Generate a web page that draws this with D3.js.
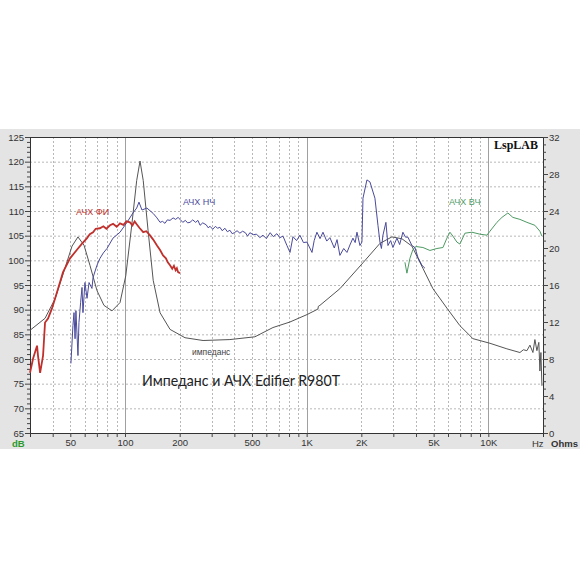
<!DOCTYPE html>
<html><head><meta charset="utf-8">
<script src="https://cdn.jsdelivr.net/npm/d3@7"></script>
<style>body{margin:0;background:#fff}svg{display:block}</style>
</head><body>
<svg id="c" width="580" height="580"></svg>
<script>
// ---- data ----
const dbTicks = [65,70,75,80,85,90,95,100,105,110,115,120,125];
const ohmTicks = [0,4,8,12,16,20,24,28,32];
const freqTicks = [50,100,200,500,1000,2000,5000,10000];
const freqTickLabels = ["50","100","200","500","1K","2K","5K","10K"];
const gridMajor = [100,1000,10000];
const gridMinor = [40,50,60,70,80,90,200,300,400,500,600,700,800,900,2000,3000,4000,5000,6000,7000,8000,9000];

// Impedance (Hz, Ohm)
const impFreq = [30,36.3,41.2,46.7,51.1,55.1,59.5,64.2,70.1,76.6,84.8,93.9,101,109,116,121,126,134,143,156,177,214,269,378,519,652,809,1004,1154,1160,1183,1524,2041,2532,2947,3345,3798,4365,4956,5917,6978,8227,10206,12651,14928,15600,16311,16947,17603,18050,18510,18972,19230,19479,19730];
const impOhm  = [11.1,12.4,14.5,17.8,20.2,21.2,20.3,18.1,15.4,13.8,13.2,14.1,17.0,22.5,27.3,29.4,27.3,21.9,16.5,13.0,11.2,10.3,10.0,10.1,10.4,11.4,12.0,12.8,13.4,13.7,13.8,15.6,18.4,20.5,21.2,21.0,20.2,17.8,15.6,13.5,11.6,10.2,9.7,9.1,8.7,9.0,8.9,9.5,8.7,10.1,8.9,9.8,6.7,8.7,5.1];

// АЧХ ФИ (red)
const fiFreq = [30,31.2,32.8,33.2,34.1,35.4,36.3,37.7,39.6,42.2,45.6,49.8,55.1,58,61.8,64,66.7,69,72.8,76,79,82.7,86,90,93.9,98,102,106.5,110,113,116,120,126,131,137,143,150,156,162,168,172,177,182,186,190,193,196,201];
const fiDb   = [77.2,80.1,82.7,80.7,77.2,80.7,87.4,88.2,90.2,93.5,97.6,100.4,102.4,103.4,104.5,105.3,105.7,106.4,106.5,106.9,106.4,107.1,107.4,106.8,107.5,107.2,107.9,107.7,107.1,107.9,107.3,106.6,105.7,105.9,105.1,104.2,103.0,102.1,101.0,100.4,99.6,99.0,98.3,98.9,98.0,98.4,97.6,97.4];

// АЧХ НЧ (blue)
const nchFreq = [50.4,51.7,52.4,53.1,53.7,55.1,55.8,57,58.0,58.7,60.2,61.8,63.4,65.8,66.7,70.1,72.8,76,79.6,85.9,93.9,102.6,110.6,116,119.4,124,132,143,150,156,161,166,171,177,184,190,196,201,208,215,221,228,236,245,252,259,268,280,287,294,304,315,323,333,343,355,366,378,389,400,414,429,444,460,473,487,508,530,552,575,600,630,655,686,712,741,779,810,841,880,918,960,1004,1070,1100,1139,1185,1230,1290,1343,1420,1470,1524,1600,1667,1730,1798,1850,1892,1965,2015,2042,2147,2230,2376,2469,2532,2580,2630,2731,2802,2900,2985,3140,3250,3387,3500,3609,3798,3944,4098,4311,4479];
const nchDb   = [79.1,86.8,89.4,84.1,89.8,80.7,87.4,91.5,94.5,89.4,95.5,92.3,95.5,94.3,96.5,99.0,100.4,101.5,102.4,104.5,105.7,107.7,109.6,110.6,111.8,110.2,110.6,109.5,108.6,107.7,107.9,107.5,108.2,108.1,108.6,108.3,108.7,108.3,107.7,108.1,107.6,107.7,108.2,107.7,108.1,107.1,107.6,107.2,106.6,106.9,106.3,106.9,106.5,106.7,106.0,106.5,105.8,106.1,105.4,105.6,106.0,105.5,105.9,105.6,104.9,105.6,105.2,105.3,104.6,105.1,104.4,105.6,104.8,105.4,104.6,104.9,103.0,101.6,104.8,104.0,105.1,103.6,103.7,101.6,104.0,105.7,104.4,105.7,103.9,104.6,102.5,104.2,101.0,102.4,101.6,103.1,104.5,103.6,105.7,103.0,103.7,112.6,116.3,115.9,112.6,107.1,103.7,102.4,105.1,107.7,103.0,104.0,102.6,104.5,103.2,105.7,104.7,104.7,103.0,102.6,100.6,99.0,98.4];

// АЧХ ВЧ (green)
const vchFreq = [3475,3564,3702,3846,3996,4365,4771,5214,5627,5917,6148,6386,6716,6978,7433,8122,8992,9826,10206,11151,11881,12815,13655,14928,16311,18049,19230,19730];
const vchDb   = [99.6,97.4,100.4,102.2,102.8,102.6,102.0,102.4,102.6,104.5,105.7,104.9,103.7,103.3,105.5,105.7,105.3,105.1,105.9,107.7,108.7,109.6,108.7,108.3,107.7,107.1,105.9,104.9];

const labels = {fi:"АЧХ ФИ", nch:"АЧХ НЧ", vch:"АЧХ ВЧ", imp:"импеданс",
  title:"Импеданс и АЧХ Edifier R980T", brand:"LspLAB"};

// ---- drawing ----
const svg = d3.select("#c");
const L=30,R=543,T=137,B=433;
const x = d3.scaleLog().domain([30,20000]).range([L,R]);
const yL = d3.scaleLinear().domain([65,125]).range([B,T]);
const yR = d3.scaleLinear().domain([0,32]).range([B,T]);

svg.append("rect").attr("x",0).attr("y",129).attr("width",580).attr("height",320).attr("fill","#e4e4e4");
svg.append("rect").attr("x",L).attr("y",T).attr("width",R-L).attr("height",B-T).attr("fill","#fff");

const g = svg.append("g");
// grid
g.selectAll(".hg").data(dbTicks.slice(1,-1)).join("line")
  .attr("x1",L).attr("x2",R).attr("y1",d=>yL(d)+0.5).attr("y2",d=>yL(d)+0.5)
  .attr("stroke","#b8b8b8").attr("stroke-dasharray","2,2");
g.selectAll(".vg").data(gridMinor).join("line")
  .attr("x1",d=>Math.round(x(d))+0.5).attr("x2",d=>Math.round(x(d))+0.5).attr("y1",T).attr("y2",B)
  .attr("stroke","#b8b8b8").attr("stroke-dasharray","2,2");
g.selectAll(".vgm").data(gridMajor).join("line")
  .attr("x1",d=>Math.round(x(d))+0.5).attr("x2",d=>Math.round(x(d))+0.5).attr("y1",T).attr("y2",B)
  .attr("stroke","#a0a0a0").attr("stroke-width",1);

// axes
const axL = d3.axisLeft(yL).tickValues(d3.range(65,126,1)).tickSize(3).tickFormat(d=>dbTicks.includes(d)?d:"");
const gl = svg.append("g").attr("transform",`translate(${L},0)`).call(axL);
gl.selectAll(".tick line").attr("x2",d=>dbTicks.includes(d)?-5:-3);
const axR = d3.axisRight(yR).tickValues(d3.range(0,32.1,0.8)).tickSize(3).tickFormat(d=>ohmTicks.includes(Math.round(d*10)/10)?Math.round(d):"");
const gr = svg.append("g").attr("transform",`translate(${R},0)`).call(axR);
gr.selectAll(".tick line").attr("x2",d=>ohmTicks.includes(Math.round(d*10)/10)?5:3);
const allF = [40,50,60,70,80,90,100,200,300,400,500,600,700,800,900,1000,2000,3000,4000,5000,6000,7000,8000,9000,10000];
const axB = d3.axisBottom(x).tickValues(allF).tickSize(4).tickFormat(d=>{const i=freqTicks.indexOf(d);return i>=0?freqTickLabels[i]:"";});
const gb = svg.append("g").attr("transform",`translate(0,${B})`).call(axB);
[gl,gr,gb].forEach(a=>{
  a.select(".domain").attr("stroke","#333");
  a.selectAll(".tick line").attr("stroke","#444");
  a.selectAll("text").attr("font-family","Liberation Sans, Arial, sans-serif").attr("font-size",9.5).attr("fill","#333");
});
gl.selectAll("text").attr("x",-6);
gr.selectAll("text").attr("x",6);
gb.selectAll("text").attr("y",6);
svg.append("line").attr("x1",L).attr("x2",R).attr("y1",T+0.5).attr("y2",T+0.5).attr("stroke","#333");

// curves
const lineOf = (ys)=> d3.line().x(d=>x(d[0])).y(d=>ys(d[1]));
const zip=(a,b)=>a.map((v,i)=>[v,b[i]]);
const plot = svg.append("g");
plot.append("path").datum(zip(impFreq,impOhm)).attr("d",lineOf(yR)).attr("fill","none").attr("stroke","#555").attr("stroke-width",1);
plot.append("path").datum(zip(vchFreq,vchDb)).attr("d",lineOf(yL)).attr("fill","none").attr("stroke","#4e9a63").attr("stroke-width",1);
plot.append("path").datum(zip(nchFreq,nchDb)).attr("d",lineOf(yL)).attr("fill","none").attr("stroke","#4a4a9c").attr("stroke-width",1);
plot.append("path").datum(zip(fiFreq,fiDb)).attr("d",lineOf(yL)).attr("fill","none").attr("stroke","#c0302c").attr("stroke-width",1.8);

// texts
const t = (s,xx,yy,opt)=>svg.append("text").text(s).attr("x",xx).attr("y",yy)
  .attr("font-family",opt.ff||"Liberation Sans, Arial, sans-serif").attr("font-size",opt.fs||9)
  .attr("fill",opt.fill||"#333").attr("font-weight",opt.fw||"normal").attr("text-anchor",opt.ta||"start");
t(labels.fi,76,215,{fill:"#c0302c"});
t(labels.nch,183,205,{fill:"#4a4a9c"});
t(labels.vch,449,205,{fill:"#4e9a63"});
t(labels.imp,192,355,{fill:"#444",fs:8.5});
t(labels.title,142,386,{fill:"#222",fs:16,ff:"Lato, sans-serif"}).attr("textLength",198).attr("lengthAdjust","spacingAndGlyphs");
t(labels.brand,538,149,{ff:"Liberation Serif, DejaVu Serif, serif",fw:"bold",fs:12,ta:"end",fill:"#111"});
t("dB",12,447,{fill:"#2a9a2a",fw:"bold",fs:9.5});
t("Hz",532,447,{fs:9.5});
t("Ohms",551,447,{fs:9.5,fw:"bold"});
</script>
</body></html>
